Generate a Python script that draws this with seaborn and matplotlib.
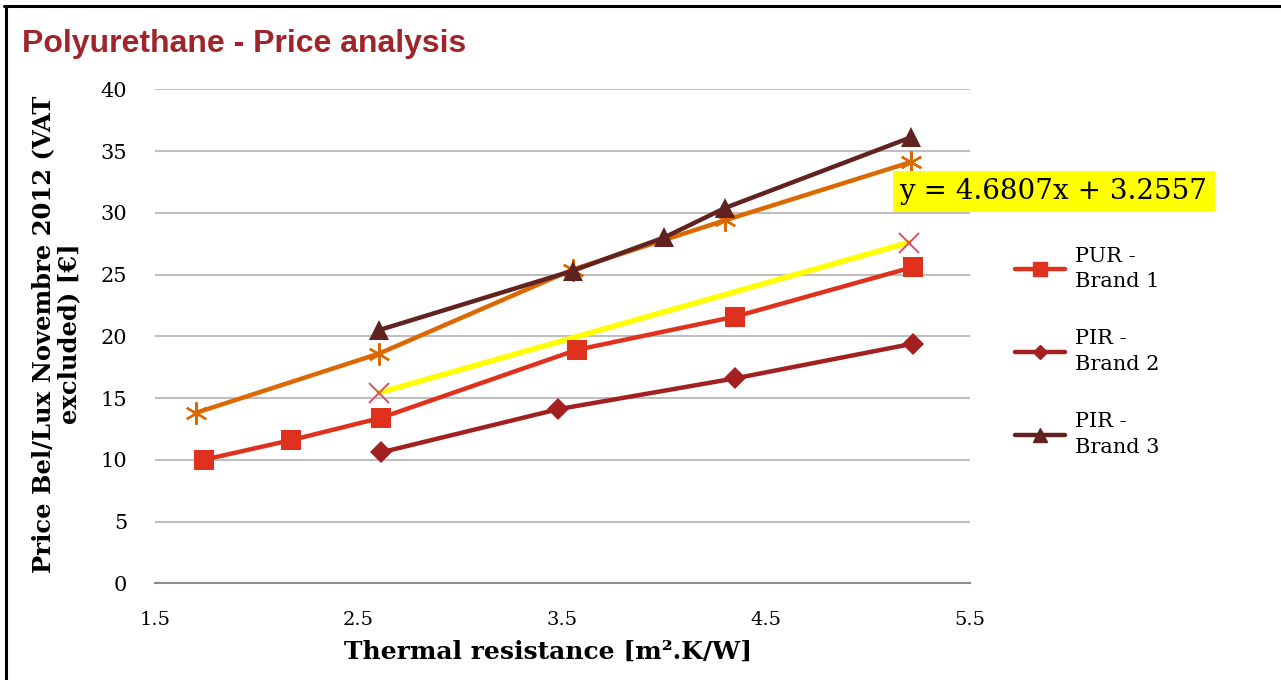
import matplotlib
matplotlib.use("Agg")
import matplotlib.pyplot as plt
from matplotlib.lines import Line2D
import seaborn as sns
import pandas as pd

# values
pur1_x = [1.74, 2.17, 2.61, 3.57, 4.35, 5.22]
pur1_y = [10.0, 11.6, 13.4, 18.9, 21.6, 25.6]
pir2_x = [2.61, 3.48, 4.35, 5.22]
pir2_y = [10.6, 14.1, 16.6, 19.4]
pir3_x = [2.60, 3.55, 4.00, 4.30, 5.21]
pir3_y = [20.5, 25.3, 28.0, 30.4, 36.1]
other_x = [1.70, 2.60, 3.55, 4.30, 5.21]
other_y = [13.8, 18.6, 25.4, 29.4, 34.1]
trend_x = [2.60, 5.20]
trend_y = [15.43, 27.59]

labels = ["PUR -\nBrand 1", "PIR -\nBrand 2", "PIR -\nBrand 3"]
colors = ["#E0301E", "#A32020", "#602320"]
orange = "#DC6900"
serif = "DejaVu Serif"

sns.set_style("white")
plt.rcParams["text.color"] = "black"
plt.rcParams["axes.labelcolor"] = "black"
plt.rcParams["xtick.color"] = "black"
plt.rcParams["ytick.color"] = "black"

fig = plt.figure(figsize=(12.81, 6.8), dpi=100)
ax = fig.add_axes([0.121, 0.1422, 0.636, 0.7265])

lw = 3.2
sns.lineplot(x=other_x, y=other_y, ax=ax, color=orange, linewidth=lw, sort=False,
             marker=(6, 2, 0), markersize=16, markeredgewidth=1.6,
             markeredgecolor=orange)
sns.lineplot(x=trend_x, y=trend_y, ax=ax, color="#FFFF00", linewidth=4, sort=False)
sns.lineplot(x=trend_x, y=trend_y, ax=ax, color="#D85068", linewidth=0,
             marker="x", markersize=14, markeredgewidth=1.4, markeredgecolor="#D85068")
sns.lineplot(x=pur1_x, y=pur1_y, ax=ax, color=colors[0], linewidth=lw, sort=False,
             marker="s", markersize=14, markeredgewidth=0)
sns.lineplot(x=pir2_x, y=pir2_y, ax=ax, color=colors[1], linewidth=lw, sort=False,
             marker="D", markersize=11, markeredgewidth=0)
sns.lineplot(x=pir3_x, y=pir3_y, ax=ax, color=colors[2], linewidth=lw, sort=False,
             marker="^", markersize=15, markeredgewidth=0)

ax.set_xlim(1.5, 5.5)
ax.set_ylim(0, 40)
ax.set_xticks([1.5, 2.5, 3.5, 4.5, 5.5])
ax.set_yticks(range(0, 41, 5))
ax.yaxis.grid(True, color="#BFBFBF", linewidth=1.5)
ax.xaxis.grid(False)
for s in ["top", "right", "left"]:
    ax.spines[s].set_visible(False)
ax.spines["bottom"].set_color("#8C8C8C")
ax.spines["bottom"].set_linewidth(1.5)
ax.tick_params(axis="x", direction="out", length=7, width=1.5, color="#8C8C8C",
               labelcolor="black", pad=13, labelsize=14)
ax.tick_params(axis="y", length=0, pad=20, labelsize=15, labelcolor="black")
for t in ax.get_xticklabels() + ax.get_yticklabels():
    t.set_fontfamily(serif)

ax.set_xlabel("Thermal resistance [m².K/W]", fontsize=18, fontweight="bold",
              family=serif, color="black")
ax.set_ylabel("Price Bel/Lux Novembre 2012 (VAT\nexcluded) [€]", fontsize=17.5,
              fontweight="bold", family=serif, linespacing=1.15, color="black")
ax.xaxis.set_label_coords(0.483, -0.115)
ax.yaxis.set_label_coords(-0.09, 0.505)

handles = [Line2D([], [], color=colors[0], linewidth=lw, marker="s", markersize=10,
                  solid_capstyle="round"),
           Line2D([], [], color=colors[1], linewidth=lw, marker="D", markersize=7,
                  solid_capstyle="round"),
           Line2D([], [], color=colors[2], linewidth=lw, marker="^", markersize=10,
                  solid_capstyle="round")]
leg = ax.legend(handles, labels, loc="upper left", bbox_to_anchor=(0.778, 0.665),
                bbox_transform=fig.transFigure, frameon=False, handlelength=2.4,
                handletextpad=0.45, labelspacing=1.85,
                prop={"family": serif, "size": 15})
for t in leg.get_texts():
    t.set_linespacing(1.42)
    t.set_color("black")

fig.text(0.8225, 0.719, "y = 4.6807x + 3.2557", fontsize=20, family=serif,
         ha="center", va="center", color="black",
         bbox=dict(facecolor="#FFFF00", edgecolor="none", pad=5))

fig.text(0.017, 0.935, "Polyurethane - Price analysis", fontsize=23,
         fontweight="bold", color="#A0252A", family="Liberation Sans",
         va="center")

fig.add_artist(Line2D([0.0035, 1], [0.9915, 0.9915], color="black", linewidth=2.2,
                      transform=fig.transFigure))
fig.add_artist(Line2D([0.0045, 0.0045], [0, 0.9915], color="black", linewidth=2.2,
                      transform=fig.transFigure))

fig.savefig("out.png", dpi=100)
